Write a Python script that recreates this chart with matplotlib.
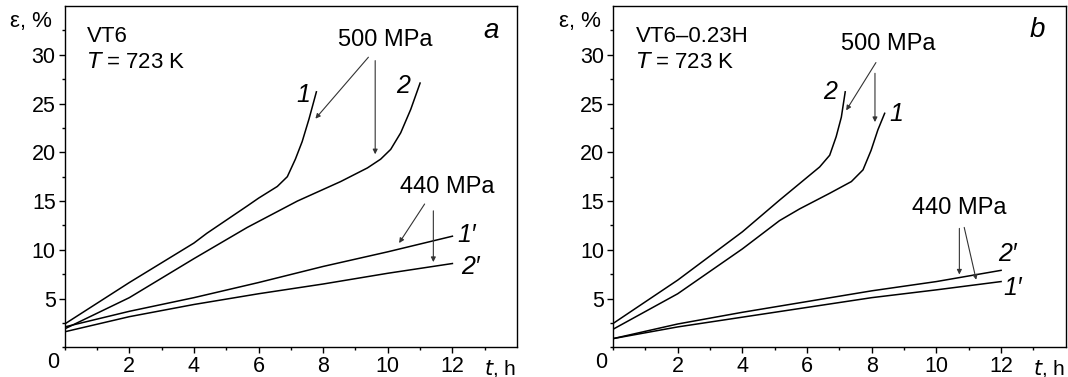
import matplotlib
matplotlib.use("Agg")
import matplotlib.pyplot as plt
from matplotlib.ticker import FixedLocator

plt.rcParams['font.family'] = ['Liberation Sans', 'DejaVu Sans']

# panel a: VT6
a_t1 = [0, 2, 4, 4.4, 5.65, 6.0, 6.58, 6.89, 7.14, 7.35, 7.56, 7.79]
a_e1 = [2.4, 6.65, 10.7, 11.7, 14.5, 15.3, 16.5, 17.5, 19.3, 21.1, 23.4, 26.2]
a_t2 = [0, 2, 4, 5.65, 7.2, 8.54, 9.37, 9.78, 10.09, 10.4, 10.71, 11.0]
a_e2 = [1.9, 5.1, 9.1, 12.3, 15.0, 17.0, 18.4, 19.3, 20.3, 22.0, 24.4, 27.1]
a_t1p = [0, 2, 4, 6, 8, 10, 12]
a_e1p = [2.1, 3.7, 5.1, 6.65, 8.3, 9.8, 11.4]
a_t2p = [0, 2, 4, 6, 8, 10, 12]
a_e2p = [1.6, 3.15, 4.4, 5.5, 6.5, 7.6, 8.6]

# panel b: VT6-0.23H
b_t2 = [0, 2, 4, 5.15, 5.77, 6.39, 6.7, 6.9, 7.06, 7.18]
b_e2 = [2.45, 6.9, 11.85, 15.1, 16.8, 18.5, 19.7, 21.6, 23.6, 26.2]
b_t1 = [0, 2, 4, 5.15, 5.77, 6.7, 7.37, 7.73, 7.98, 8.19, 8.4]
b_e1 = [1.86, 5.5, 10.1, 13.0, 14.2, 15.8, 17.0, 18.2, 20.2, 22.3, 24.0]
b_t2p = [0, 2, 4, 6, 8, 10, 12]
b_e2p = [0.9, 2.4, 3.6, 4.7, 5.8, 6.75, 7.9]
b_t1p = [0, 2, 4, 6, 8, 10, 12]
b_e1p = [0.9, 2.1, 3.1, 4.1, 5.1, 5.9, 6.75]

x_ticks = [2, 4, 6, 8, 10, 12]
y_ticks = [5, 10, 15, 20, 25, 30]

FS = 15.5   # tick labels
FT = 16     # material / temperature text
FP = 17     # stress labels
FC = 18     # curve numbers


def setup_axes(ax):
    ax.set_xlim(0, 14)
    ax.set_ylim(0, 35)
    ax.xaxis.set_major_locator(FixedLocator(x_ticks))
    ax.xaxis.set_minor_locator(FixedLocator([0, 1, 3, 5, 7, 9, 11, 13]))
    ax.yaxis.set_major_locator(FixedLocator(y_ticks))
    ax.yaxis.set_minor_locator(FixedLocator([0, 2.5, 7.5, 12.5, 17.5, 22.5, 27.5, 32.5]))
    ax.tick_params(which='major', direction='out', length=4, width=1, labelsize=FS, pad=2.5)
    ax.tick_params(which='minor', direction='out', length=2.5, width=1)
    ax.tick_params(axis='x', which='both', top=False)
    ax.tick_params(axis='y', which='both', right=False)
    for s in ax.spines.values():
        s.set_linewidth(1.0)
    ax.annotate("0", xy=(0, 0), xytext=(-8.6, -11), textcoords='offset points',
                fontsize=FS, ha='center', va='center')
    ax.annotate("ε, %", xy=(0, 1), xycoords='axes fraction', xytext=(-24, -11),
                textcoords='offset points', fontsize=FT, ha='center', va='center')
    ax.annotate("$\\it{t}$, h", xy=(1, 0), xycoords='axes fraction', xytext=(-12, -19.5),
                textcoords='offset points', fontsize=15, ha='center', va='baseline')


def arrow(ax, start, end):
    ax.annotate("", xy=end, xytext=start,
                arrowprops=dict(arrowstyle='-|>', color='#333333', lw=0.8,
                                mutation_scale=7, shrinkA=0, shrinkB=0))


fig = plt.figure(figsize=(10.68, 3.77), dpi=100)
ax1 = fig.add_axes([0.0606, 0.0785, 0.4235, 0.9056])
ax2 = fig.add_axes([0.574, 0.0785, 0.4239, 0.9056])

# ---- panel a
setup_axes(ax1)
for t, e in [(a_t1, a_e1), (a_t2, a_e2), (a_t1p, a_e1p), (a_t2p, a_e2p)]:
    ax1.plot(t, e, color='black', lw=1.1)
ax1.text(0.7, 31.9, "VT6", fontsize=FT, va='center')
ax1.text(0.7, 29.2, "$\\it{T}$ = 723 K", fontsize=FT, va='center')
ax1.text(13.2, 32.4, "a", fontsize=20, style='italic', ha='center', va='center')
ax1.text(9.93, 31.5, "500 MPa", fontsize=FP, ha='center', va='center')
arrow(ax1, (9.4, 29.75), (7.76, 23.45))
arrow(ax1, (9.61, 29.4), (9.61, 19.8))
ax1.text(11.83, 16.45, "440 MPa", fontsize=FP, ha='center', va='center')
arrow(ax1, (11.14, 14.7), (10.35, 10.7))
arrow(ax1, (11.41, 14.0), (11.41, 8.75))
ax1.text(7.39, 25.9, "1", fontsize=FC, style='italic', ha='center', va='center')
ax1.text(10.46, 26.8, "2", fontsize=FC, style='italic', ha='center', va='center')
ax1.text(12.45, 11.55, "1\u2032", fontsize=FC, style='italic', ha='center', va='center')
ax1.text(12.55, 8.2, "2\u2032", fontsize=FC, style='italic', ha='center', va='center')

# ---- panel b
setup_axes(ax2)
for t, e in [(b_t2, b_e2), (b_t1, b_e1), (b_t2p, b_e2p), (b_t1p, b_e1p)]:
    ax2.plot(t, e, color='black', lw=1.1)
ax2.text(0.72, 31.9, "VT6\u20130.23H", fontsize=FT, va='center')
ax2.text(0.72, 29.2, "$\\it{T}$ = 723 K", fontsize=FT, va='center')
ax2.text(13.13, 32.5, "b", fontsize=20, style='italic', ha='center', va='center')
ax2.text(8.5, 31.1, "500 MPa", fontsize=FP, ha='center', va='center')
arrow(ax2, (8.13, 29.2), (7.21, 24.3))
arrow(ax2, (8.1, 28.1), (8.1, 23.1))
ax2.text(10.7, 14.3, "440 MPa", fontsize=FP, ha='center', va='center')
arrow(ax2, (10.71, 12.2), (10.71, 7.47))
arrow(ax2, (10.86, 12.3), (11.23, 6.94))
ax2.text(6.71, 26.2, "2", fontsize=FC, style='italic', ha='center', va='center')
ax2.text(8.76, 23.9, "1", fontsize=FC, style='italic', ha='center', va='center')
ax2.text(12.2, 9.6, "2\u2032", fontsize=FC, style='italic', ha='center', va='center')
ax2.text(12.35, 6.1, "1\u2032", fontsize=FC, style='italic', ha='center', va='center')

fig.savefig("out.png", dpi=100)
